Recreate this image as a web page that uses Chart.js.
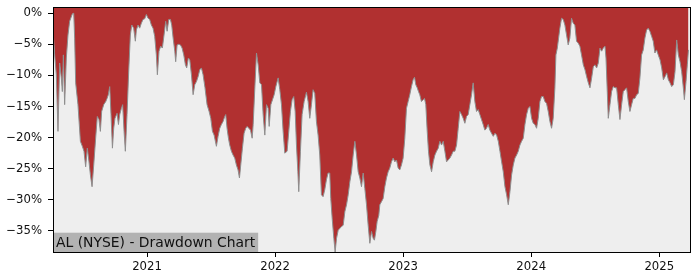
<!DOCTYPE html>
<html>
<head>
<meta charset="utf-8">
<script src="https://cdn.jsdelivr.net/npm/chart.js@4.4.1/dist/chart.umd.min.js"></script>
<style>
  html, body { margin: 0; padding: 0; background: #fff; }
  #wrap { width: 700px; height: 280px; }
</style>
</head>
<body>
<div id="wrap"><canvas id="ddChart" width="700" height="280"></canvas></div>
<script>
// dates as decimal years, drawdown in %
var dates = [
  2020.266, 2020.279, 2020.292, 2020.305, 2020.318, 2020.331, 2020.339, 2020.347, 2020.357, 2020.370,
  2020.383, 2020.396, 2020.417, 2020.428, 2020.435, 2020.443, 2020.461, 2020.480, 2020.495, 2020.508,
  2020.521, 2020.534, 2020.547, 2020.558, 2020.571, 2020.584, 2020.599, 2020.612, 2020.625, 2020.636,
  2020.646, 2020.662, 2020.678, 2020.688, 2020.698, 2020.709, 2020.719, 2020.730, 2020.740, 2020.750,
  2020.766, 2020.777, 2020.787, 2020.800, 2020.810, 2020.821, 2020.831, 2020.844, 2020.857, 2020.870,
  2020.881, 2020.896, 2020.909, 2020.917, 2020.930, 2020.943, 2020.956, 2020.969, 2020.982, 2020.995,
  2021.008, 2021.021, 2021.034, 2021.047, 2021.060, 2021.073, 2021.081, 2021.094, 2021.107, 2021.120,
  2021.133, 2021.146, 2021.157, 2021.170, 2021.183, 2021.193, 2021.204, 2021.217, 2021.224, 2021.235,
  2021.248, 2021.261, 2021.274, 2021.287, 2021.300, 2021.310, 2021.323, 2021.334, 2021.347, 2021.360,
  2021.373, 2021.386, 2021.399, 2021.412, 2021.425, 2021.438, 2021.453, 2021.469, 2021.485, 2021.498,
  2021.511, 2021.524,
  2021.542, 2021.555, 2021.568, 2021.581, 2021.594, 2021.607, 2021.615, 2021.625, 2021.636, 2021.646,
  2021.659, 2021.672, 2021.685, 2021.698, 2021.711, 2021.722, 2021.732, 2021.745, 2021.758, 2021.771,
  2021.782, 2021.795, 2021.808, 2021.821, 2021.829, 2021.842, 2021.855, 2021.868, 2021.881, 2021.894,
  2021.907, 2021.920, 2021.933, 2021.946, 2021.954, 2021.967, 2021.980, 2021.993, 2022.006, 2022.024,
  2022.037, 2022.050, 2022.063, 2022.076, 2022.094, 2022.107, 2022.120, 2022.133, 2022.146, 2022.157,
  2022.167, 2022.178, 2022.185, 2022.198, 2022.211, 2022.227, 2022.245, 2022.258, 2022.271, 2022.284,
  2022.297, 2022.310, 2022.323, 2022.336, 2022.349, 2022.362, 2022.375, 2022.388, 2022.401, 2022.414,
  2022.427, 2022.435, 2022.446, 2022.459, 2022.469, 2022.480, 2022.493, 2022.506, 2022.519, 2022.532,
  2022.545, 2022.558, 2022.571, 2022.584, 2022.597, 2022.610, 2022.623, 2022.636, 2022.649, 2022.662,
  2022.675, 2022.688, 2022.701, 2022.714, 2022.727, 2022.740,
  2022.753, 2022.766, 2022.776, 2022.787, 2022.797, 2022.810, 2022.818, 2022.831, 2022.844, 2022.857,
  2022.870, 2022.883, 2022.896, 2022.909, 2022.922, 2022.935, 2022.948, 2022.961, 2022.974, 2022.987,
  2023.000, 2023.013, 2023.026, 2023.039, 2023.052, 2023.065, 2023.078, 2023.089, 2023.099, 2023.110,
  2023.120, 2023.130, 2023.143, 2023.157, 2023.167, 2023.177, 2023.188, 2023.198, 2023.209, 2023.222,
  2023.235, 2023.248, 2023.261, 2023.274, 2023.287, 2023.300, 2023.313, 2023.326, 2023.339, 2023.352,
  2023.365, 2023.378, 2023.391, 2023.404, 2023.417, 2023.430, 2023.443, 2023.456, 2023.469, 2023.482,
  2023.495, 2023.508, 2023.521, 2023.534, 2023.547, 2023.560, 2023.573, 2023.586, 2023.599, 2023.612,
  2023.625, 2023.638, 2023.651, 2023.664, 2023.677, 2023.690, 2023.704, 2023.717, 2023.730, 2023.743,
  2023.756, 2023.769, 2023.782, 2023.795, 2023.808, 2023.821, 2023.834, 2023.847, 2023.860, 2023.873,
  2023.886, 2023.899, 2023.912, 2023.925, 2023.938, 2023.951, 2023.964, 2023.977, 2023.990, 2024.003,
  2024.016,
  2024.029, 2024.042, 2024.055, 2024.068, 2024.081, 2024.094, 2024.107, 2024.120, 2024.133, 2024.146,
  2024.159, 2024.172, 2024.185, 2024.193, 2024.204, 2024.214, 2024.224, 2024.237, 2024.250, 2024.263,
  2024.276, 2024.289, 2024.302, 2024.315, 2024.328, 2024.341, 2024.354, 2024.367, 2024.380, 2024.393,
  2024.407, 2024.420, 2024.433, 2024.446, 2024.459, 2024.472, 2024.485, 2024.498, 2024.511, 2024.524,
  2024.537, 2024.550, 2024.563, 2024.576, 2024.584, 2024.594, 2024.602, 2024.615, 2024.628, 2024.641,
  2024.654, 2024.667, 2024.680, 2024.693, 2024.706, 2024.719, 2024.732, 2024.745, 2024.758, 2024.771,
  2024.784, 2024.797, 2024.810, 2024.823, 2024.836, 2024.849, 2024.862, 2024.875, 2024.888, 2024.901,
  2024.914, 2024.927, 2024.940, 2024.953, 2024.966, 2024.979, 2024.992, 2025.006, 2025.019, 2025.032,
  2025.045, 2025.058, 2025.071, 2025.084, 2025.097, 2025.110, 2025.123, 2025.136, 2025.149, 2025.162,
  2025.175, 2025.188, 2025.196, 2025.209, 2025.219, 2025.228
];

var drawdown = [
  -2.6, -6.7, -9.9, -19.0, -8.0, -10.4, -12.6, -6.7, -14.7, -7.2,
  -3.5, -1.3, -0.1, 0, -4.0, -11.2, -14.7, -20.6, -21.4, -22.2,
  -24.7, -21.7, -23.9, -26.0, -27.9, -24.4, -20.1, -16.6, -17.1, -19.0,
  -15.8, -14.7, -14.2, -13.7, -13.1, -11.8, -16.3, -21.7, -18.5, -16.9,
  -16.1, -17.9, -16.3, -15.3, -14.7, -19.0, -22.2, -16.3, -9.4, -3.5,
  -1.9, -2.4, -4.5, -2.7, -1.9, -2.4, -1.6, -1.0, -0.9, -0.2,
  -0.8, -1.0, -1.9, -2.4, -3.7, -6.7, -9.9, -6.1, -5.3, -5.6,
  -3.5, -1.3, -2.9, -1.0, -1.0, -1.9, -4.0, -6.1, -7.8, -5.1,
  -5.0, -5.1, -5.6, -6.7, -8.3, -8.8, -7.2, -7.5, -9.9, -13.1,
  -11.5, -11.0, -10.2, -9.1, -8.8, -9.9, -12.0, -14.7, -15.8, -16.9,
  -19.0, -19.6,
  -21.4, -19.8, -18.5, -17.9, -17.4, -16.6, -16.3, -18.5, -20.1, -21.2,
  -22.2, -22.8, -23.3, -24.4, -25.2, -26.5, -24.4, -21.7, -19.3, -18.5,
  -18.2, -18.5, -18.8, -20.1, -17.9, -12.0, -6.4, -8.3, -11.2, -11.5,
  -16.3, -19.6, -14.7, -15.3, -18.2, -14.7, -13.9, -13.1, -11.8, -10.4,
  -12.3, -14.7, -19.0, -22.5, -22.2, -19.0, -15.8, -13.9, -13.4, -15.8,
  -21.2, -25.5, -28.7, -22.2, -16.3, -14.2, -12.7, -14.2, -16.9, -14.7,
  -12.3, -12.9, -17.4, -19.6, -22.8, -29.2, -29.5, -28.4, -26.8, -25.7,
  -25.7, -29.8, -33.0, -36.2, -38.4, -36.2, -34.9, -34.6, -34.3, -34.1,
  -31.9, -30.8, -29.2, -27.1, -25.5, -22.8, -20.6, -22.8, -25.5, -26.5,
  -27.9, -25.7, -28.2, -30.8, -34.1, -37.0,
  -35.1, -36.2, -36.5, -35.1, -33.5, -32.5, -30.8, -30.3, -29.8, -27.9,
  -26.5, -25.5, -24.9, -23.9, -23.3, -23.9, -23.6, -24.9, -25.2, -24.4,
  -23.3, -20.1, -15.3, -14.2, -13.1, -11.8, -10.7, -10.3, -11.5, -12.0,
  -12.6, -13.1, -14.2, -13.9, -13.7, -14.7, -19.0, -22.2, -24.4, -25.5,
  -23.9, -22.8, -22.2, -21.7, -20.6, -21.2, -20.6, -22.2, -23.9, -23.6,
  -23.3, -22.8, -22.2, -22.2, -21.2, -18.5, -15.8, -16.3, -16.9, -17.7,
  -16.6, -16.3, -14.7, -13.1, -11.2, -14.2, -15.8, -15.5, -16.3, -17.1,
  -17.9, -18.8, -18.5, -17.9, -18.8, -19.3, -19.8, -19.3, -19.6, -20.6,
  -22.2, -23.9, -25.5, -27.9, -29.2, -30.8, -28.7, -26.0, -24.4, -23.3,
  -22.8, -22.2, -21.2, -20.6, -20.1, -17.9, -16.3, -15.3, -15.0, -16.9,
  -17.7,
  -17.9, -18.5, -16.9, -14.2, -13.4, -13.4, -14.2, -14.5, -15.8, -17.4,
  -18.5, -16.9, -12.0, -6.7, -5.6, -4.0, -2.4, -0.8, -1.0, -1.9,
  -3.5, -5.1, -4.0, -0.8, -1.6, -1.9, -4.5, -4.8, -5.3, -6.7,
  -8.3, -9.1, -10.2, -11.2, -12.0, -10.4, -8.6, -8.3, -8.8, -8.0,
  -5.6, -6.1, -5.6, -5.3, -7.2, -12.6, -16.9, -14.7, -12.6, -11.8,
  -12.0, -12.0, -14.7, -17.1, -14.7, -12.6, -12.3, -12.0, -14.2, -15.8,
  -14.7, -13.7, -13.7, -13.1, -12.9, -10.4, -6.7, -5.9, -4.0, -2.7,
  -2.4, -2.9, -3.7, -4.5, -6.4, -5.9, -6.7, -7.5, -8.8, -10.7,
  -10.2, -9.6, -10.7, -11.2, -11.8, -11.5, -9.4, -4.3, -6.7, -7.8,
  -9.4, -12.0, -13.9, -11.0, -8.3, -5.9
];

var yTicks = [0, -5, -10, -15, -20, -25, -30, -35];
var xTicks = [2021, 2022, 2023, 2024, 2025];
var chartTitle = 'AL (NYSE) - Drawdown Chart';

var tickFont = { family: '"DejaVu Sans", sans-serif', size: 11.7 };

var points = dates.map(function (d, i) {
    return { x: d, y: drawdown[i] };
});

// plot background, frame and the label box
var framePlugin = {
    id: 'frame',
    beforeDraw: function (chart) {
        var a = chart.chartArea, ctx = chart.ctx;
        ctx.save();
        ctx.fillStyle = '#eeeeee';
        ctx.fillRect(a.left, a.top, a.right - a.left, a.bottom - a.top);
        ctx.restore();
    },
    afterDraw: function (chart) {
        var a = chart.chartArea, ctx = chart.ctx;
        ctx.save();
        ctx.font = '13.9px "DejaVu Sans", sans-serif';
        var w = ctx.measureText(chartTitle).width;
        ctx.fillStyle = '#b2b2b2';
        ctx.fillRect(a.left, a.bottom - 19.3, w + 6, 19.3);
        ctx.fillStyle = '#111';
        ctx.textBaseline = 'alphabetic';
        ctx.fillText(chartTitle, a.left + 3, a.bottom - 5.3);
        ctx.strokeStyle = '#000';
        ctx.lineWidth = 1;
        ctx.strokeRect(a.left + 0.5, a.top + 0.5, a.right - a.left, a.bottom - a.top);
        ctx.restore();
    }
};

var ctx = document.getElementById('ddChart').getContext('2d');
var ddChart = new Chart(ctx, {
    type: 'line',
    data: {
        datasets: [{
            data: points,
            fill: 'end',
            backgroundColor: 'rgb(177, 48, 48)',
            borderColor: '#8e8e8e',
            borderWidth: 1,
            pointRadius: 0,
            tension: 0
        }]
    },
    options: {
        responsive: false,
        animation: false,
        layout: { padding: { top: 7, right: 10, left: 0, bottom: 0 } },
        plugins: {
            legend: { display: false },
            tooltip: { enabled: false }
        },
        scales: {
            x: {
                type: 'linear',
                min: 2020.266,
                max: 2025.240,
                afterBuildTicks: function (s) {
                    s.ticks = xTicks.map(function (v) { return { value: v }; });
                },
                afterFit: function (s) {
                    s.height = 28;
                    s.paddingLeft = 0;
                    s.paddingRight = 0;
                },
                ticks: {
                    callback: function (v) { return String(v); },
                    font: tickFont,
                    color: '#111',
                    padding: 3,
                    maxRotation: 0,
                    autoSkip: false
                },
                grid: {
                    drawOnChartArea: false,
                    drawTicks: true,
                    tickLength: 5,
                    color: '#000',
                    lineWidth: 1
                },
                border: { display: false }
            },
            y: {
                min: -38.4,
                max: 1.0,
                afterBuildTicks: function (s) {
                    s.ticks = yTicks.map(function (v) { return { value: v }; });
                },
                afterFit: function (s) {
                    s.width = 53;
                    s.paddingTop = 0;
                    s.paddingBottom = 0;
                },
                ticks: {
                    callback: function (v) {
                        return (v < 0 ? '\u2212' : '') + Math.abs(v) + '%';
                    },
                    font: tickFont,
                    color: '#111',
                    padding: 6
                },
                grid: {
                    drawOnChartArea: false,
                    drawTicks: true,
                    tickLength: 5,
                    color: '#000',
                    lineWidth: 1
                },
                border: { display: false }
            }
        }
    },
    plugins: [framePlugin]
});
</script>
</body>
</html>
